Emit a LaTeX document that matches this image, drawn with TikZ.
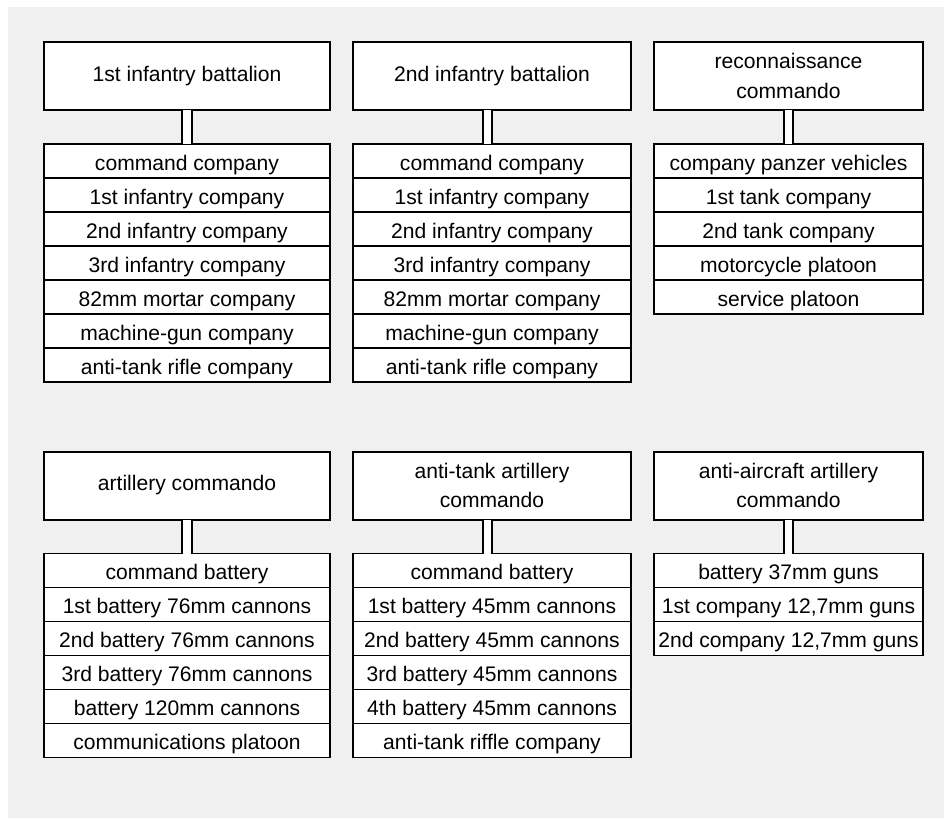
\documentclass[tikz,border=0pt]{standalone}
\usepackage{fontspec}
\setmainfont{Liberation Sans}
\usetikzlibrary{positioning}
\definecolor{panel}{HTML}{F0F0F0}
\tikzset{
  unit/.style={draw, rectangle, fill=white, line width=0.04cm, outer sep=0pt, inner sep=2pt, minimum height=1.36cm, align=center, font=\fontsize{12}{17}\selectfont},
  sub/.style={draw, rectangle, fill=white, line width=0.03cm, outer sep=0pt, inner sep=1pt, minimum height=0.68cm, text height=10.5pt, text depth=0pt, font=\fontsize{12}{14}\selectfont},
  link/.style={double distance=0.15cm, line width=0.04cm},
  colA/.style={minimum width=5.72cm},
  colB/.style={minimum width=5.56cm},
  colC/.style={minimum width=5.38cm}
}
\begin{document}
\begin{tikzpicture}
\useasboundingbox (0,0) rectangle (18.88,-16.36);
\fill[panel] (0.16,-0.14) rectangle (18.88,-16.36);
% top row
\node (bat1) [unit, colA] at (3.74,-1.52) {1st infantry battalion};
\node (bat1a) [sub, colA, below=0.68cm of bat1] {command company};
\node (bat1b) [sub, colA, below=0pt of bat1a] {1st infantry company};
\node (bat1c) [sub, colA, below=0pt of bat1b] {2nd infantry company};
\node (bat1d) [sub, colA, below=0pt of bat1c] {3rd infantry company};
\node (bat1e) [sub, colA, below=0pt of bat1d] {82mm mortar company};
\node (bat1f) [sub, colA, below=0pt of bat1e] {machine-gun company};
\node (bat1g) [sub, colA, below=0pt of bat1f] {anti-tank rifle company};
\draw[link] (bat1) -- (bat1a);

\node (bat2) [unit, colB] at (9.84,-1.52) {2nd infantry battalion};
\node (bat2a) [sub, colB, below=0.68cm of bat2] {command company};
\node (bat2b) [sub, colB, below=0pt of bat2a] {1st infantry company};
\node (bat2c) [sub, colB, below=0pt of bat2b] {2nd infantry company};
\node (bat2d) [sub, colB, below=0pt of bat2c] {3rd infantry company};
\node (bat2e) [sub, colB, below=0pt of bat2d] {82mm mortar company};
\node (bat2f) [sub, colB, below=0pt of bat2e] {machine-gun company};
\node (bat2g) [sub, colB, below=0pt of bat2f] {anti-tank rifle company};
\draw[link] ([xshift=-0.09cm]bat2.south) -- ([xshift=-0.09cm]bat2a.north);

\node (recon) [unit, colC] at (15.77,-1.52) {reconnaissance\\commando};
\node (recona) [sub, colC, below=0.68cm of recon] {company panzer vehicles};
\node (reconb) [sub, colC, below=0pt of recona] {1st tank company};
\node (reconc) [sub, colC, below=0pt of reconb] {2nd tank company};
\node (recond) [sub, colC, below=0pt of reconc] {motorcycle platoon};
\node (recone) [sub, colC, below=0pt of recond] {service platoon};
\draw[link] (recon) -- (recona);

% bottom row
\node (art) [unit, colA] at (3.74,-9.71) {artillery commando};
\node (arta) [sub, colA, below=0.68cm of art] {command battery};
\node (artb) [sub, colA, below=0pt of arta] {1st battery 76mm cannons};
\node (artc) [sub, colA, below=0pt of artb] {2nd battery 76mm cannons};
\node (artd) [sub, colA, below=0pt of artc] {3rd battery 76mm cannons};
\node (arte) [sub, colA, below=0pt of artd] {battery 120mm cannons};
\node (artf) [sub, colA, below=0pt of arte] {communications platoon};
\draw[link] (art) -- (arta);

\node (at) [unit, colB] at (9.84,-9.71) {anti-tank artillery\\commando};
\node (ata) [sub, colB, below=0.68cm of at] {command battery};
\node (atb) [sub, colB, below=0pt of ata] {1st battery 45mm cannons};
\node (atc) [sub, colB, below=0pt of atb] {2nd battery 45mm cannons};
\node (atd) [sub, colB, below=0pt of atc] {3rd battery 45mm cannons};
\node (ate) [sub, colB, below=0pt of atd] {4th battery 45mm cannons};
\node (atf) [sub, colB, below=0pt of ate] {anti-tank riffle company};
\draw[link] ([xshift=-0.09cm]at.south) -- ([xshift=-0.09cm]ata.north);

\node (aa) [unit, colC] at (15.77,-9.71) {anti-aircraft artillery\\commando};
\node (aaa) [sub, colC, below=0.68cm of aa] {battery 37mm guns};
\node (aab) [sub, colC, below=0pt of aaa] {1st company 12,7mm guns};
\node (aac) [sub, colC, below=0pt of aab] {2nd company 12,7mm guns};
\draw[link] (aa) -- (aaa);
\end{tikzpicture}
\end{document}
